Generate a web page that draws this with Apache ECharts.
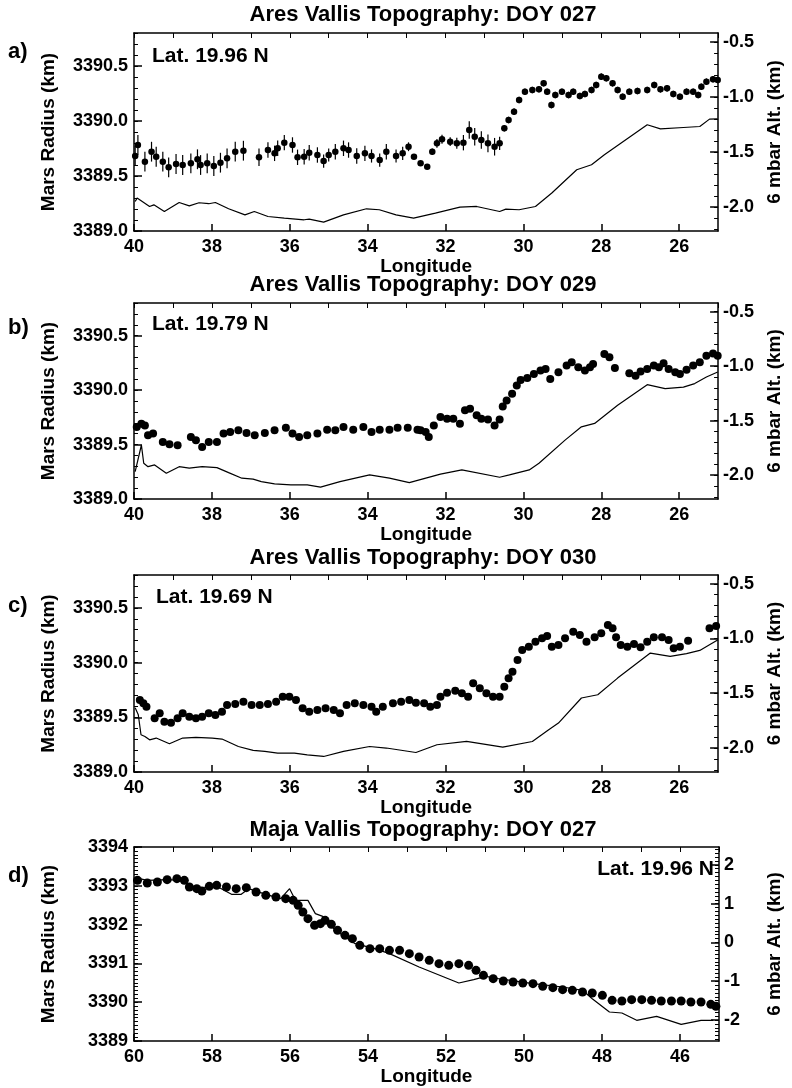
<!DOCTYPE html>
<html><head><meta charset="utf-8">
<script src="https://cdn.jsdelivr.net/npm/echarts@6/dist/echarts.min.js"></script>
<style>html,body{margin:0;padding:0;background:#fff}#c{width:792px;height:1088px}</style>
</head><body><div id="c"></div><script>
// ---------- tick labels ----------
const xTicksAres = [26, 28, 30, 32, 34, 36, 38, 40];
const xTicksMaja = [46, 48, 50, 52, 54, 56, 58, 60];
const radTicksAres = [3389.0, 3389.5, 3390.0, 3390.5];
const altTicksAres = [-2.0, -1.5, -1.0, -0.5];
const radTicksMaja = [3389, 3390, 3391, 3392, 3393, 3394];
const altTicksMaja = [-2, -1, 0, 1, 2];

// ---------- panel a: Ares Vallis DOY 027 [lon, radius km, error km] ----------
const dotsA = [
[39.97,3389.682,0.09],[39.90,3389.782,0.09],[39.72,3389.630,0.09],[39.55,3389.721,0.09],[39.43,3389.675,0.09],
[39.26,3389.630,0.09],[39.11,3389.579,0.09],[38.92,3389.609,0.09],[38.75,3389.600,0.09],[38.54,3389.615,0.09],
[38.37,3389.652,0.09],[38.29,3389.600,0.09],[38.12,3389.615,0.09],[37.95,3389.591,0.09],[37.78,3389.621,0.09],
[37.61,3389.661,0.09],[37.40,3389.721,0.09],[37.19,3389.730,0.09],[36.79,3389.670,0.08],[36.56,3389.736,0.07],
[36.39,3389.706,0.07],[36.31,3389.752,0.07],[36.14,3389.803,0.07],[35.93,3389.782,0.07],[35.80,3389.670,0.07],
[35.63,3389.675,0.07],[35.50,3389.712,0.07],[35.29,3389.691,0.07],[35.13,3389.636,0.06],[35.00,3389.691,0.06],
[34.83,3389.721,0.07],[34.62,3389.752,0.07],[34.49,3389.736,0.07],[34.28,3389.682,0.07],[34.07,3389.706,0.07],
[33.90,3389.682,0.06],[33.69,3389.645,0.06],[33.52,3389.721,0.07],[33.27,3389.682,0.06],[33.10,3389.706,0.06],
[32.95,3389.766,0.04],[32.81,3389.675,0.02],[32.64,3389.615,0.02],[32.47,3389.585,0.02],[32.34,3389.721,0.03],
[32.22,3389.797,0.04],[32.09,3389.834,0.04],[31.88,3389.812,0.04],[31.71,3389.797,0.05],[31.54,3389.803,0.07],
[31.39,3389.918,0.08],[31.25,3389.857,0.08],[31.08,3389.827,0.08],[30.91,3389.797,0.08],[30.74,3389.766,0.08],
[30.61,3389.797,0.06],[30.49,3389.934,0.03],[30.38,3390.009,0.03],[30.24,3390.085,0.03],[30.11,3390.191,0.03],
[29.96,3390.266,0.03],[29.77,3390.282,0.03],[29.60,3390.288,0.03],[29.48,3390.343,0.03],[29.39,3390.266,0.03],
[29.28,3390.145,0.03],[29.18,3390.236,0.03],[29.01,3390.266,0.03],[28.84,3390.236,0.03],[28.72,3390.266,0.03],
[28.55,3390.227,0.03],[28.42,3390.245,0.03],[28.25,3390.282,0.03],[28.13,3390.327,0.03],[28.00,3390.403,0.03],
[27.87,3390.388,0.03],[27.71,3390.343,0.03],[27.58,3390.282,0.03],[27.45,3390.221,0.03],[27.28,3390.266,0.03],
[27.07,3390.273,0.03],[26.82,3390.282,0.03],[26.64,3390.327,0.03],[26.48,3390.288,0.03],[26.31,3390.297,0.03],
[26.15,3390.245,0.03],[25.98,3390.221,0.03],[25.81,3390.266,0.03],[25.64,3390.266,0.03],[25.51,3390.236,0.03],
[25.43,3390.312,0.03],[25.30,3390.357,0.03],[25.13,3390.379,0.03],[25.01,3390.373,0.03]
];
// 6 mbar altitude (km) [lon, alt]
const lineA = [
[39.97,-1.952],[39.92,-1.921],[39.60,-1.997],[39.49,-1.982],[39.22,-2.043],[38.84,-1.961],[38.58,-1.991],
[38.33,-1.963],[38.08,-1.972],[37.91,-1.961],[37.57,-2.018],[37.15,-2.073],[36.91,-2.043],[36.56,-2.088],
[36.14,-2.103],[35.63,-2.118],[35.50,-2.112],[35.13,-2.139],[34.62,-2.073],[34.03,-2.018],[33.70,-2.027],
[33.27,-2.073],[32.82,-2.103],[32.26,-2.057],[31.63,-2.003],[31.20,-1.997],[30.61,-2.043],[30.45,-2.021],
[30.11,-2.027],[29.69,-1.997],[29.27,-1.875],[28.63,-1.663],[28.25,-1.618],[27.92,-1.527],[26.82,-1.254],
[26.48,-1.291],[25.89,-1.279],[25.47,-1.270],[25.22,-1.203],[25.01,-1.200]
];

// ---------- panel b: Ares Vallis DOY 029 ----------
const dotsB = [
[39.93,3389.661],[39.81,3389.692],[39.72,3389.676],[39.64,3389.585],[39.51,3389.601],[39.26,3389.524],
[39.09,3389.503],[38.88,3389.494],[38.54,3389.569],[38.41,3389.539],[38.25,3389.478],[38.08,3389.524],
[37.87,3389.524],[37.70,3389.601],[37.53,3389.615],[37.32,3389.631],[37.11,3389.606],[36.90,3389.585],
[36.64,3389.606],[36.39,3389.631],[36.10,3389.655],[35.93,3389.601],[35.76,3389.569],[35.55,3389.585],
[35.29,3389.601],[35.04,3389.637],[34.83,3389.631],[34.62,3389.661],[34.37,3389.637],[34.11,3389.661],
[33.90,3389.615],[33.69,3389.637],[33.44,3389.637],[33.23,3389.655],[32.97,3389.655],[32.72,3389.637],
[32.64,3389.631],[32.51,3389.615],[32.43,3389.569],[32.30,3389.676],[32.13,3389.752],[31.96,3389.738],
[31.80,3389.738],[31.63,3389.692],[31.50,3389.814],[31.37,3389.829],[31.20,3389.768],[31.08,3389.738],
[30.91,3389.729],[30.74,3389.676],[30.61,3389.729],[30.53,3389.850],[30.43,3389.905],[30.29,3389.966],
[30.17,3390.042],[30.07,3390.094],[29.90,3390.112],[29.73,3390.149],[29.56,3390.179],[29.43,3390.195],
[29.31,3390.103],[29.10,3390.164],[28.89,3390.225],[28.76,3390.255],[28.59,3390.209],[28.42,3390.179],
[28.29,3390.209],[28.21,3390.240],[27.92,3390.332],[27.79,3390.301],[27.65,3390.204],[27.28,3390.155],
[27.12,3390.133],[26.99,3390.170],[26.82,3390.195],[26.65,3390.225],[26.52,3390.209],[26.40,3390.246],
[26.27,3390.195],[26.10,3390.164],[25.98,3390.149],[25.81,3390.186],[25.64,3390.225],[25.47,3390.255],
[25.30,3390.316],[25.13,3390.337],[25.01,3390.316]
];
const lineB = [
[39.97,-1.968],[39.81,-1.724],[39.75,-1.892],[39.64,-1.923],[39.47,-1.907],[39.17,-1.983],[38.84,-1.923],
[38.58,-1.937],[38.25,-1.923],[37.87,-1.932],[37.57,-1.978],[37.23,-2.029],[36.94,-2.038],[36.73,-2.060],
[36.39,-2.081],[35.97,-2.090],[35.55,-2.090],[35.21,-2.111],[34.71,-2.060],[33.95,-1.999],[33.44,-2.029],
[32.93,-2.069],[32.13,-1.992],[31.58,-1.953],[30.61,-2.020],[30.36,-1.999],[29.85,-1.953],[29.60,-1.892],
[28.93,-1.679],[28.51,-1.557],[28.17,-1.526],[27.58,-1.359],[26.82,-1.170],[26.36,-1.206],[25.89,-1.192],
[25.60,-1.160],[25.30,-1.100],[25.01,-1.054]
];

// ---------- panel c: Ares Vallis DOY 030 ----------
const dotsC = [
[39.85,3389.658],[39.76,3389.628],[39.68,3389.597],[39.47,3389.491],[39.34,3389.537],[39.22,3389.460],
[39.05,3389.451],[38.88,3389.491],[38.75,3389.537],[38.58,3389.505],[38.41,3389.491],[38.25,3389.505],
[38.08,3389.537],[37.91,3389.521],[37.74,3389.551],[37.61,3389.612],[37.40,3389.622],[37.19,3389.643],
[36.98,3389.612],[36.77,3389.612],[36.56,3389.622],[36.35,3389.643],[36.18,3389.688],[36.01,3389.688],
[35.84,3389.658],[35.67,3389.582],[35.50,3389.551],[35.29,3389.567],[35.08,3389.582],[34.87,3389.567],
[34.71,3389.537],[34.54,3389.612],[34.33,3389.628],[34.11,3389.612],[33.90,3389.597],[33.78,3389.551],
[33.61,3389.597],[33.35,3389.628],[33.14,3389.643],[32.93,3389.658],[32.76,3389.633],[32.55,3389.628],
[32.39,3389.597],[32.22,3389.612],[32.13,3389.688],[31.96,3389.725],[31.75,3389.743],[31.58,3389.719],
[31.42,3389.688],[31.29,3389.811],[31.12,3389.765],[30.95,3389.719],[30.78,3389.688],[30.61,3389.688],
[30.49,3389.780],[30.38,3389.856],[30.28,3389.917],[30.15,3390.024],[30.03,3390.115],[29.86,3390.145],
[29.69,3390.191],[29.52,3390.222],[29.39,3390.243],[29.27,3390.145],[29.10,3390.161],[28.93,3390.222],
[28.72,3390.282],[28.55,3390.252],[28.38,3390.191],[28.17,3390.231],[28.00,3390.268],[27.83,3390.344],
[27.71,3390.314],[27.62,3390.231],[27.50,3390.161],[27.33,3390.145],[27.16,3390.170],[26.99,3390.140],
[26.82,3390.191],[26.65,3390.231],[26.44,3390.231],[26.27,3390.207],[26.14,3390.131],[25.98,3390.145],
[25.77,3390.200],[25.22,3390.314],[25.05,3390.335]
];
const lineC = [
[39.97,-1.633],[39.89,-1.697],[39.82,-1.880],[39.72,-1.895],[39.60,-1.926],[39.43,-1.910],[39.09,-1.962],
[38.75,-1.910],[38.41,-1.904],[37.99,-1.910],[37.74,-1.919],[37.32,-1.987],[36.94,-2.023],[36.64,-2.032],
[36.31,-2.047],[35.88,-2.047],[35.55,-2.063],[35.13,-2.078],[34.62,-2.032],[33.95,-1.987],[33.52,-2.001],
[32.76,-2.042],[32.22,-1.971],[31.46,-1.941],[30.53,-1.992],[29.77,-1.941],[29.35,-1.834],[29.10,-1.773],
[28.51,-1.544],[28.09,-1.514],[27.58,-1.362],[26.74,-1.133],[26.23,-1.164],[25.81,-1.139],[25.47,-1.109],
[25.22,-1.057],[25.00,-1.011]
];

// ---------- panel d: Maja Vallis DOY 027 ----------
const dotsD = [
[59.91,3393.141],[59.66,3393.072],[59.40,3393.098],[59.15,3393.158],[58.90,3393.184],[58.71,3393.141],
[58.58,3392.969],[58.39,3392.926],[58.26,3392.866],[58.07,3392.986],[57.88,3393.012],[57.63,3392.969],
[57.38,3392.926],[57.12,3392.952],[56.87,3392.840],[56.62,3392.754],[56.36,3392.711],[56.11,3392.668],
[55.92,3392.625],[55.79,3392.497],[55.67,3392.325],[55.54,3392.153],[55.37,3391.981],[55.22,3392.024],
[55.10,3392.110],[54.94,3392.007],[54.78,3391.852],[54.59,3391.723],[54.40,3391.637],[54.21,3391.466],
[53.95,3391.380],[53.70,3391.380],[53.45,3391.337],[53.19,3391.337],[52.94,3391.251],[52.69,3391.165],
[52.43,3391.079],[52.18,3390.993],[51.93,3390.950],[51.67,3390.993],[51.42,3390.950],[51.23,3390.821],
[51.04,3390.692],[50.79,3390.607],[50.53,3390.546],[50.28,3390.521],[50.03,3390.495],[49.77,3390.478],
[49.52,3390.409],[49.26,3390.375],[49.01,3390.323],[48.76,3390.306],[48.50,3390.263],[48.25,3390.237],
[47.99,3390.177],[47.74,3390.048],[47.49,3390.031],[47.24,3390.065],[46.98,3390.065],[46.73,3390.048],
[46.48,3390.031],[46.22,3390.031],[45.97,3390.031],[45.72,3390.005],[45.46,3390.005],[45.21,3389.945],
[45.08,3389.893]
];
const lineD = [
[59.97,1.670],[59.66,1.601],[59.15,1.618],[58.77,1.601],[58.39,1.386],[57.88,1.446],[57.50,1.240],
[57.25,1.240],[57.06,1.386],[56.62,1.240],[56.24,1.128],[56.01,1.386],[55.86,1.085],[55.67,1.085],
[55.54,1.085],[55.35,0.742],[55.16,0.673],[54.84,0.312],[54.33,-0.031],[53.83,-0.160],[53.45,-0.289],
[52.69,-0.633],[51.67,-1.045],[51.29,-0.959],[50.98,-0.873],[50.66,-0.933],[49.77,-1.062],[49.01,-1.148],
[48.50,-1.234],[48.25,-1.449],[47.81,-1.793],[47.49,-1.818],[47.11,-2.007],[46.60,-1.904],[45.97,-2.110],
[45.46,-2.007],[45.15,-2.007]
];

// ---------- layout ----------
const FONT = '"Liberation Sans", Arial, Helvetica, sans-serif';
const BLACK = '#000';
const panels = [
  {title:'Ares Vallis Topography: DOY 027', letter:'a)', lat:'Lat. 19.96 N', top:33, height:198,
   xmin:25, xmax:40, xt:xTicksAres, rmin:3389.0, rmax:3390.8, rt:radTicksAres, amin:-2.22, amax:-0.42, at:altTicksAres,
   dots:dotsA, line:lineA, err:true, dec:1, dot:6.5, titleY:15, letterY:52, latX:152, latY:56, latAlign:'left'},
  {title:'Ares Vallis Topography: DOY 029', letter:'b)', lat:'Lat. 19.79 N', top:303, height:196,
   xmin:25, xmax:40, xt:xTicksAres, rmin:3389.0, rmax:3390.8, rt:radTicksAres, amin:-2.22, amax:-0.42, at:altTicksAres,
   dots:dotsB, line:lineB, err:false, dec:1, dot:8, titleY:285, letterY:328, latX:152, latY:324, latAlign:'left'},
  {title:'Ares Vallis Topography: DOY 030', letter:'c)', lat:'Lat. 19.69 N', top:575, height:197,
   xmin:25, xmax:40, xt:xTicksAres, rmin:3389.0, rmax:3390.8, rt:radTicksAres, amin:-2.22, amax:-0.42, at:altTicksAres,
   dots:dotsC, line:lineC, err:false, dec:1, dot:8, titleY:558, letterY:606, latX:156, latY:597, latAlign:'left'},
  {title:'Maja Vallis Topography: DOY 027', letter:'d)', lat:'Lat. 19.96 N', top:847, height:194,
   xmin:45, xmax:60, xt:xTicksMaja, rmin:3389, rmax:3394, rt:radTicksMaja, amin:-2.54, amax:2.46, at:altTicksMaja,
   dots:dotsD, line:lineD, err:false, dec:0, dot:9, titleY:830, letterY:876, latX:714, latY:869, latAlign:'right'}
];

function minorVals(lo, hi) {
  const out = [];
  for (let k = Math.ceil(lo * 10 - 1e-6); k <= Math.floor(hi * 10 + 1e-6); k++) out.push(+(k / 10).toFixed(1));
  return out;
}

const grid = [], xAxis = [], yAxis = [], series = [], graphic = [];
const lineStyle = {color: BLACK, width: 1.5};
const lblStyle = {color: BLACK, fontFamily: FONT, fontWeight: 'bold'};

panels.forEach((p, i) => {
  grid.push({left: 134, width: 593, top: p.top, height: p.height});
  xAxis.push({
    gridIndex: i, type: 'value', position: 'bottom', inverse: true, min: p.xmin, max: p.xmax,
    axisLine: {show: true, onZero: false, lineStyle},
    axisTick: {show: true, inside: true, length: 7, customValues: p.xt, lineStyle},
    axisLabel: Object.assign({show: true, customValues: p.xt, margin: 7, fontSize: 18}, lblStyle),
    splitLine: {show: false},
    name: 'Longitude', nameLocation: 'middle', nameGap: 26,
    nameTextStyle: Object.assign({fontSize: 19}, lblStyle)
  });
  xAxis.push({
    gridIndex: i, type: 'value', position: 'top', inverse: true, min: p.xmin, max: p.xmax, interval: 1,
    axisLine: {show: true, onZero: false, lineStyle},
    axisTick: {show: true, inside: true, length: 5, lineStyle: {color: BLACK, width: 1}},
    axisLabel: {show: false}, splitLine: {show: false}
  });
  yAxis.push({
    gridIndex: i, type: 'value', position: 'left', min: p.rmin, max: p.rmax,
    axisLine: {show: true, onZero: false, lineStyle},
    axisTick: {show: true, inside: true, length: 8, customValues: p.rt, lineStyle},
    axisLabel: Object.assign({show: true, customValues: p.rt, margin: 6, fontSize: 18,
      formatter: v => (+v).toFixed(p.dec)}, lblStyle),
    splitLine: {show: false},
    name: 'Mars Radius (km)', nameLocation: 'middle', nameRotate: 90, nameGap: 76,
    nameTextStyle: Object.assign({fontSize: 19}, lblStyle)
  });
  yAxis.push({
    gridIndex: i, type: 'value', position: 'left', min: p.rmin, max: p.rmax,
    axisLine: {show: false},
    axisTick: {show: true, inside: true, length: 4, customValues: minorVals(p.rmin, p.rmax), lineStyle: {color: BLACK, width: 1}},
    axisLabel: {show: false}, splitLine: {show: false}
  });
  yAxis.push({
    gridIndex: i, type: 'value', position: 'right', min: p.amin, max: p.amax,
    axisLine: {show: true, onZero: false, lineStyle},
    axisTick: {show: true, inside: true, length: 8, customValues: p.at, lineStyle},
    axisLabel: Object.assign({show: true, customValues: p.at, margin: 5, fontSize: 18,
      formatter: v => (+v).toFixed(p.dec)}, lblStyle),
    splitLine: {show: false},
    name: '6 mbar Alt. (km)', nameLocation: 'middle', nameRotate: 90, nameGap: 46,
    nameTextStyle: Object.assign({fontSize: 19}, lblStyle)
  });
  yAxis.push({
    gridIndex: i, type: 'value', position: 'right', min: p.amin, max: p.amax,
    axisLine: {show: false},
    axisTick: {show: true, inside: true, length: 4, customValues: minorVals(p.amin, p.amax), lineStyle: {color: BLACK, width: 1}},
    axisLabel: {show: false}, splitLine: {show: false}
  });

  if (p.err) {
    series.push({
      type: 'custom', xAxisIndex: 2 * i, yAxisIndex: 4 * i, silent: true,
      data: p.dots, encode: {x: 0, y: 1},
      renderItem: (params, api) => {
        const x = api.value(0), y = api.value(1), e = api.value(2);
        const a = api.coord([x, y - e]), b = api.coord([x, y + e]);
        return {type: 'line', shape: {x1: a[0], y1: a[1], x2: b[0], y2: b[1]},
                style: {stroke: BLACK, lineWidth: 1.2}};
      }
    });
  }
  series.push({
    type: 'scatter', xAxisIndex: 2 * i, yAxisIndex: 4 * i, silent: true,
    data: p.dots.map(d => [d[0], d[1]]), symbol: 'circle', symbolSize: p.dot,
    itemStyle: {color: BLACK, opacity: 1}
  });
  series.push({
    type: 'line', xAxisIndex: 2 * i, yAxisIndex: 4 * i + 2, silent: true,
    data: p.line, showSymbol: false, symbol: 'none',
    lineStyle: {color: BLACK, width: 1.2}
  });

  graphic.push({type: 'text', silent: true, style: {text: p.title, x: 423, y: p.titleY,
    textAlign: 'center', align: 'center', textVerticalAlign: 'middle', verticalAlign: 'middle',
    font: 'bold 22px ' + FONT, fill: BLACK}});
  graphic.push({type: 'text', silent: true, style: {text: p.letter, x: 8, y: p.letterY,
    textAlign: 'left', align: 'left', textVerticalAlign: 'middle', verticalAlign: 'middle',
    font: 'bold 22px ' + FONT, fill: BLACK}});
  graphic.push({type: 'text', silent: true, style: {text: p.lat, x: p.latX, y: p.latY,
    textAlign: p.latAlign, align: p.latAlign, textVerticalAlign: 'middle', verticalAlign: 'middle',
    font: 'bold 21px ' + FONT, fill: BLACK}});
});

const chart = echarts.init(document.getElementById('c'), null, {renderer: 'canvas'});
chart.setOption({
  backgroundColor: '#fff', animation: false,
  grid, xAxis, yAxis, series, graphic
});
</script></body></html>
